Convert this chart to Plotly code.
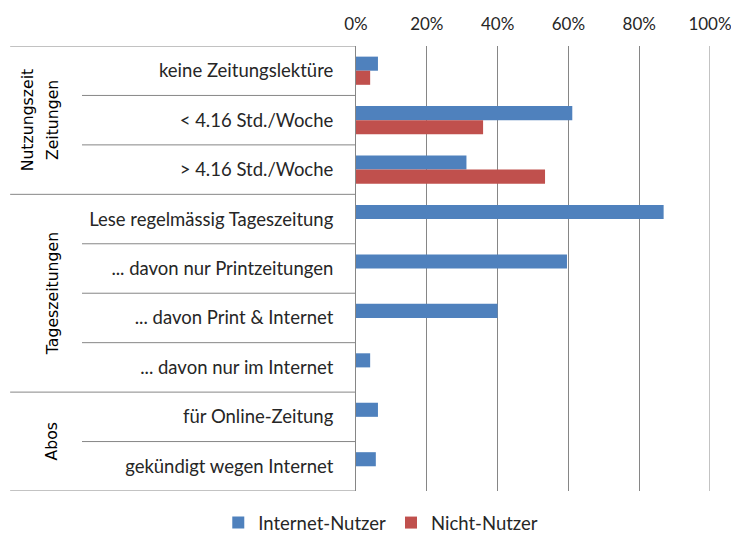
import plotly.graph_objects as go

categories = [
    "keine Zeitungslektüre",
    "< 4.16 Std./Woche",
    "> 4.16 Std./Woche",
    "Lese regelmässig Tageszeitung",
    "... davon nur Printzeitungen",
    "... davon Print & Internet",
    "... davon nur im Internet",
    "für Online-Zeitung",
    "gekündigt wegen Internet",
]
internet_nutzer = [6.2, 61.1, 31.2, 86.9, 59.6, 40.0, 4.0, 6.2, 5.6]
nicht_nutzer = [4.0, 35.9, 53.4, None, None, None, None, None, None]
groups = [(["Nutzungszeit", "Zeitungen"], 0, 2), (["Tageszeitungen"], 3, 6), (["Abos"], 7, 8)]
x_ticks = [0, 20, 40, 60, 80, 100]
x_tick_labels = ["0%", "20%", "40%", "60%", "80%", "100%"]

BLUE = "#4F81BD"
RED = "#C0504D"
GRID = "#868686"
TXT = "#262626"
FONT = "Lato, Open Sans, sans-serif"
idx = list(range(len(categories)))

fig = go.Figure()
fig.add_trace(go.Bar(y=idx, x=internet_nutzer, orientation="h", name="Internet-Nutzer",
                     marker=dict(color=BLUE, line=dict(width=0))))
fig.add_trace(go.Bar(y=idx, x=nicht_nutzer, orientation="h", name="Nicht-Nutzer",
                     marker=dict(color=RED, line=dict(width=0))))

shapes = []
bounds = {-0.5}
for _, a, b in groups:
    bounds.add(b + 0.5)
for i in range(len(categories) + 1):
    yb = i - 0.5
    x0 = -0.977 if yb in bounds else -0.774
    shapes.append(dict(type="line", xref="paper", yref="y", x0=x0, x1=0, y0=yb, y1=yb,
                       line=dict(color=GRID, width=1)))
shapes.append(dict(type="line", xref="x", yref="paper", x0=100, x1=100, y0=0, y1=1,
                   line=dict(color=GRID, width=1)))

annotations = []
for lines, a, b in groups:
    xs = [-0.929, -0.859] if len(lines) == 2 else [-0.859]
    for txt, xp in zip(lines, xs):
        annotations.append(dict(xref="paper", yref="y", x=xp, y=(a + b) / 2, text=txt,
                                textangle=-90, showarrow=False, xanchor="center", yanchor="middle",
                                font=dict(family="DejaVu Sans", size=15.7, color="#000000")))

fig.update_layout(
    width=731, height=533,
    margin=dict(l=356, r=21, t=46, b=42, autoexpand=False),
    paper_bgcolor="white", plot_bgcolor="white",
    barmode="group", bargap=0.43, bargroupgap=0,
    font=dict(family=FONT, size=18, color=TXT),
    xaxis=dict(side="top", range=[0, 100], tickvals=x_ticks, ticktext=x_tick_labels,
               showgrid=True, gridcolor=GRID, gridwidth=1, zeroline=False,
               showline=False, ticks="", fixedrange=True, automargin=False,
               ticklabelstandoff=12, ticklabeloverflow="allow",
               tickfont=dict(family=FONT, size=17, color=TXT)),
    yaxis=dict(range=[len(categories) - 0.5, -0.5], tickvals=idx, ticktext=categories,
               showline=True, linecolor=GRID, linewidth=1, showgrid=False, zeroline=False,
               ticks="", ticklabelstandoff=18, automargin=False, fixedrange=True,
               tickfont=dict(family=FONT, size=18.5, color=TXT)),
    legend=dict(orientation="h", xref="paper", yref="paper", x=0.07, y=-0.072,
                xanchor="center", yanchor="middle", font=dict(family=FONT, size=18.5, color=TXT),
                traceorder="normal", itemwidth=30),
    shapes=shapes,
    annotations=annotations,
    showlegend=True,
)

fig.write_html("out.html", config={"displayModeBar": False},
               post_script="document.body.style.margin='0';")
